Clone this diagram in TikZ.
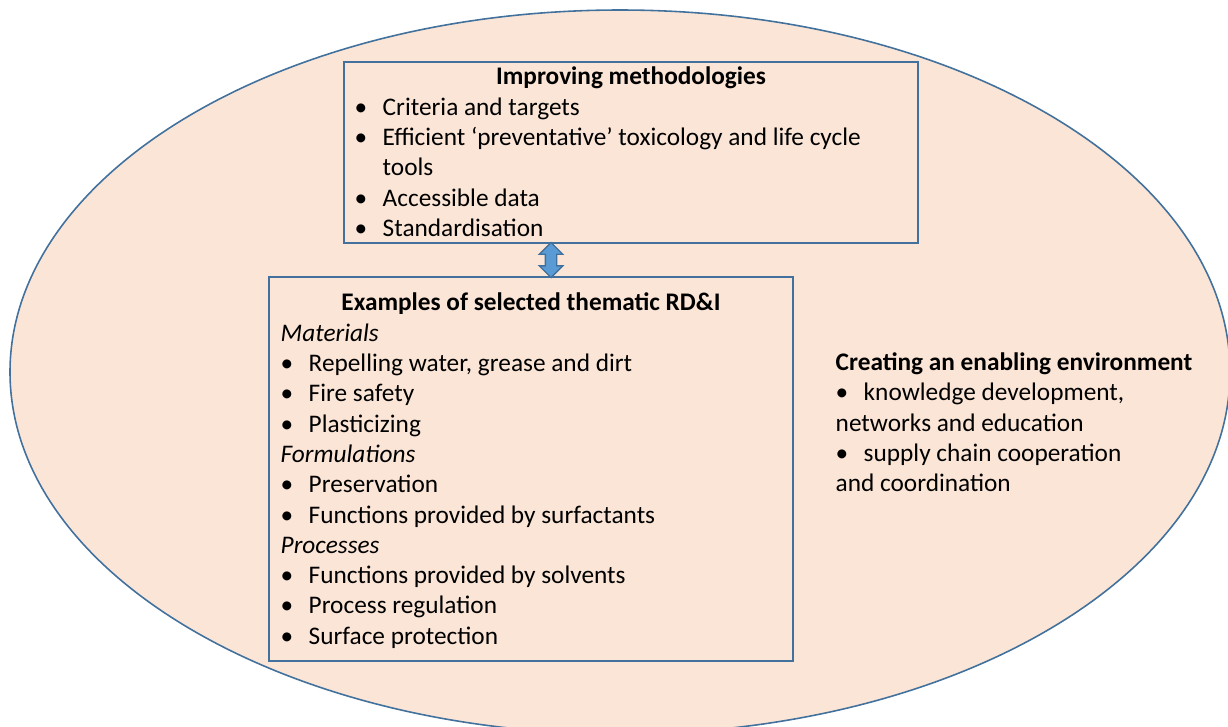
\documentclass[tikz,border=0pt]{standalone}
\usepackage{fontspec}
\setmainfont{Carlito}
\usetikzlibrary{positioning, shapes.arrows}

\definecolor{peach}{RGB}{251,229,214}
\definecolor{edgeblue}{RGB}{65,113,156}
\definecolor{arrowblue}{RGB}{91,155,213}

\newcommand{\bitem}[1]{\makebox[0.28cm][l]{\textbullet}#1}

\begin{document}
\begin{tikzpicture}[font=\fontsize{7.2}{8.62}\selectfont,
    box/.style={rectangle, draw=edgeblue, fill=peach, line width=0.5pt, inner sep=0pt},
    txt/.style={inner sep=0pt, align=left, anchor=north west}]
    \useasboundingbox (0,0) rectangle (12.28,7.26);

    % the big ellipse, cut off by the page
    \begin{scope}
        \clip (0,0) rectangle (12.28,7.26);
        \draw[draw=edgeblue, fill=peach, line width=0.45pt]
            (6.20,3.54) ellipse [x radius=6.10, y radius=3.62];
    \end{scope}

    % Add the boxes
        \node[box,
              minimum width=5.74cm,
              minimum height=1.81cm] (meth) at (6.31,5.735) {};
        \node[box,
              minimum width=5.24cm,
              minimum height=3.84cm] (rdi) at (5.31,2.57) {};

    % the link between them
        \node[double arrow,
              draw=edgeblue,
              fill=arrowblue,
              line width=0.4pt,
              rotate=90,
              inner sep=0.05cm,
              minimum height=0.35cm,
              double arrow head extend=0.06cm] (link) at (5.51,4.66) {};

    % texts
        \node[inner sep=0pt, anchor=base] (methtitle) at (6.31,6.42)
            {\textbf{Improving methodologies}};
        \node[txt] (methlist) at (3.54,6.29) {%
            \bitem{Criteria and targets}\\
            \bitem{Efficient `preventative' toxicology and life cycle}\\
            \hspace*{0.28cm}tools\\
            \bitem{Accessible data}\\
            \bitem{Standardisation}};

        \node[inner sep=0pt, anchor=base] (rditile) at (5.31,4.16)
            {\textbf{Examples of selected thematic RD\&I}};
        \node[txt] (rdilist) at (2.80,4.03) {%
            \textit{Materials}\\
            \bitem{Repelling water, grease and dirt}\\
            \bitem{Fire safety}\\
            \bitem{Plasticizing}\\
            \textit{Formulations}\\
            \bitem{Preservation}\\
            \bitem{Functions provided by surfactants}\\
            \textit{Processes}\\
            \bitem{Functions provided by solvents}\\
            \bitem{Process regulation}\\
            \bitem{Surface protection}};

        \node[txt] (envtext) at (8.35,3.74) {%
            \textbf{Creating an enabling environment}\\
            \bitem{knowledge development,}\\
            networks and education\\
            \bitem{supply chain cooperation}\\
            and coordination};
\end{tikzpicture}
\end{document}
